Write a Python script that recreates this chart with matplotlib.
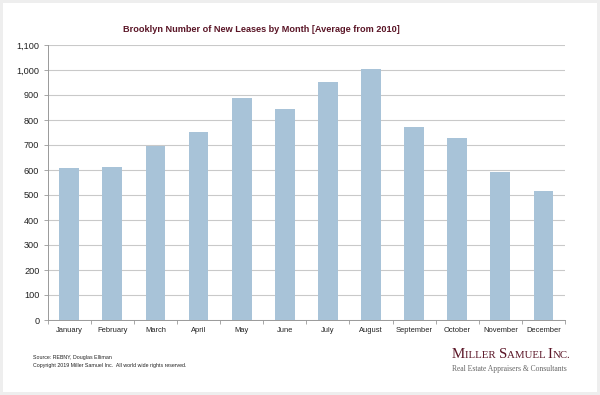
import matplotlib.pyplot as plt
from matplotlib.patches import Rectangle
from matplotlib.ticker import FuncFormatter, MultipleLocator

# Average number of new leases per month
months = ["January", "February", "March", "April", "May", "June",
          "July", "August", "September", "October", "November", "December"]
leases = [607, 613, 698, 753, 887, 843, 951, 1003, 771, 727, 592, 517]

title = "Brooklyn Number of New Leases by Month [Average from 2010]"
source_lines = ["Source: REBNY, Douglas Elliman",
                "Copyright 2019 Miller Samuel Inc.  All world wide rights reserved."]

bar_color = "#a8c3d8"
grid_color = "#c9c9c9"
maroon = "#5a1526"

plt.rcParams.update({
    "font.family": ["Liberation Sans", "DejaVu Sans"],
})

fig = plt.figure(figsize=(6.0, 3.95), dpi=100)
fig.patch.set_facecolor("#eeeeee")
# white panel behind everything
fig.patches.append(Rectangle((3 / 600, 3 / 395), 594 / 600, 389 / 395,
                             transform=fig.transFigure, facecolor="white",
                             edgecolor="none", zorder=-10))

ax = fig.add_axes([47.7 / 600, 1 - 320 / 395, (565 - 47.7) / 600, 275 / 395])
ax.set_facecolor("none")

x = range(len(months))
ax.bar(x, leases, width=0.46, color=bar_color, zorder=2)

ax.set_xlim(-0.5, len(months) - 0.5)
ax.set_ylim(0, 1100)
ax.yaxis.set_major_locator(MultipleLocator(100))
ax.yaxis.set_major_formatter(FuncFormatter(lambda v, p: f"{int(v):,}"))
ax.grid(axis="y", color=grid_color, linewidth=0.8, zorder=1)
ax.set_axisbelow(True)

ax.set_xticks(list(x))
ax.set_xticklabels(months, fontsize=5.4, color="#222222")
ax.set_xticks([i + 0.5 for i in range(-1, len(months))], minor=True)
ax.tick_params(axis="x", which="major", length=0, pad=5)
ax.tick_params(axis="x", which="minor", length=3, color="#999999", width=0.6)
ax.tick_params(axis="y", labelsize=6.6, labelcolor="#222222", length=3,
               color="#999999", width=0.6, pad=3)

for side in ["top", "right"]:
    ax.spines[side].set_visible(False)
for side in ["left", "bottom"]:
    ax.spines[side].set_color("#999999")
    ax.spines[side].set_linewidth(0.7)

fig.text(261 / 600, 1 - 29 / 395, title, ha="center", va="center",
         fontsize=6.6, fontweight="bold", color=maroon)

fig.text(33 / 600, 1 - 357 / 395, source_lines[0], fontsize=3.75,
         va="center", color="#222222")
fig.text(33 / 600, 1 - 365 / 395, source_lines[1], fontsize=3.75,
         va="center", color="#222222")

# logo in small caps: big first letters, smaller rest, laid out left to right
pieces = [("M", 10.7), ("ILLER ", 7.8), ("S", 10.7), ("AMUEL ", 7.8), ("I", 10.7), ("NC.", 7.8)]
renderer = fig.canvas.get_renderer()
x_px = 452
for txt, size in pieces:
    t = fig.text(x_px / 600, 1 - 358 / 395, txt, fontsize=size,
                 family="Liberation Serif", color=maroon,
                 ha="left", va="baseline")
    x_px += t.get_window_extent(renderer).width

fig.text(452 / 600, 1 - 371 / 395, "Real Estate Appraisers & Consultants",
         fontsize=5.5, family="Liberation Serif", color="#666666",
         ha="left", va="baseline")

fig.savefig("out.png", dpi=100, facecolor=fig.get_facecolor())
